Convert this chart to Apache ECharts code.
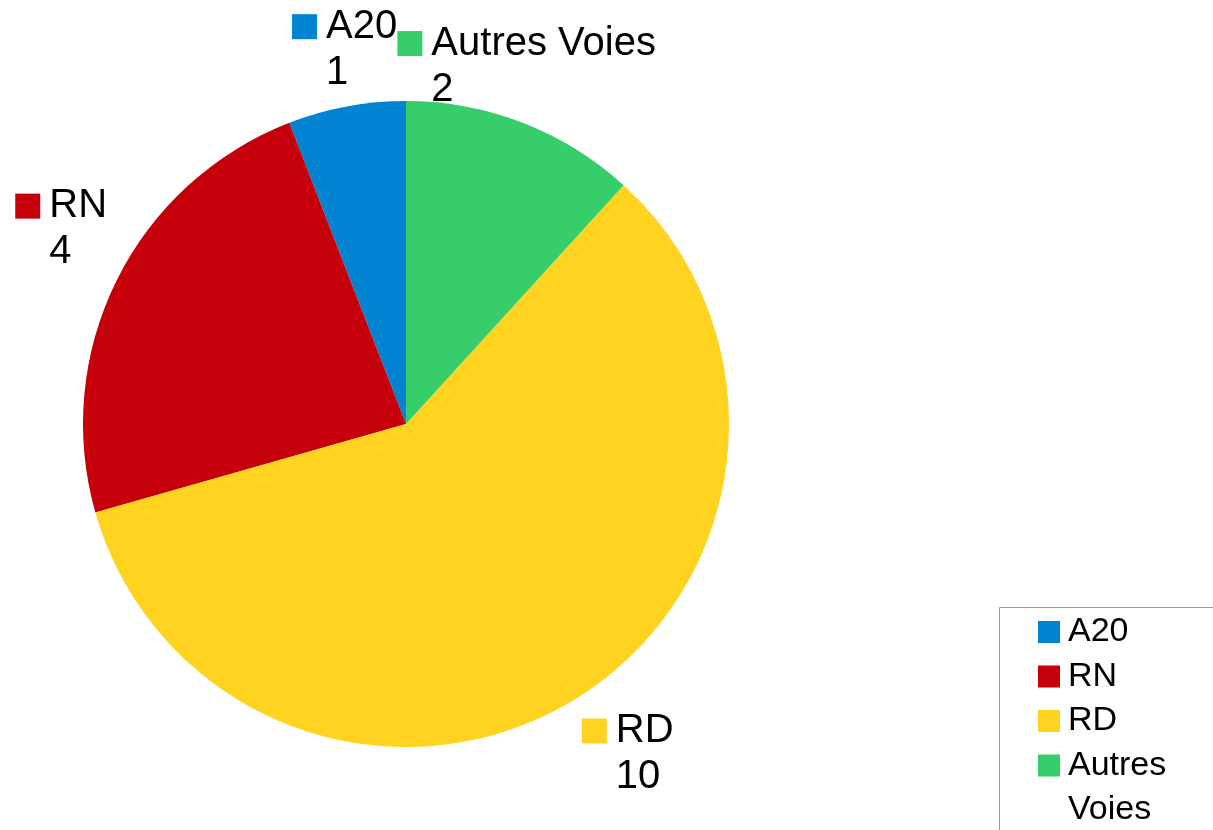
<!DOCTYPE html>
<html>
<head>
<meta charset="utf-8">
<script src="https://cdn.jsdelivr.net/npm/echarts@6/dist/echarts.min.js"></script>
<style>
html,body{margin:0;padding:0;background:#fff;}
#chart{width:1213px;height:830px;}
</style>
</head>
<body>
<div id="chart"></div>
<script>
const categories = ['A20', 'RN', 'RD', 'Autres Voies'];
const values = [1, 4, 10, 2];
const colors = ['#0084d1', '#c5000b', '#ffd320', '#37cd6b'];

const CX = 406, CY = 424, R = 323;
const FONT = '"Liberation Sans", Arial, sans-serif';

const rich = {
  g: { width: 9, lineHeight: 46, align: 'left' },
  sp: { width: 25, lineHeight: 46, align: 'left' },
  t: { fontSize: 40, fontFamily: FONT, color: '#000', lineHeight: 46, align: 'left' }
};
colors.forEach(function (c, i) {
  rich['sq' + i] = { width: 25, height: 25, backgroundColor: c, lineHeight: 46, align: 'left' };
});

const chart = echarts.init(document.getElementById('chart'), null, { renderer: 'canvas' });

const legendText = {
  fontSize: 34,
  fontFamily: FONT,
  color: '#000',
  lineHeight: 44.5,
  padding: [0, 0, 0, 3]
};

chart.setOption({
  animation: false,
  backgroundColor: '#fff',
  color: colors,
  graphic: [{
    type: 'rect',
    z: 0,
    silent: true,
    shape: { x: 999.5, y: 607.5, width: 400, height: 400 },
    style: { fill: '#fff', stroke: '#9a9a9a', lineWidth: 1 }
  }],
  legend: [{
    orient: 'vertical',
    left: 1038,
    top: 609.75,
    padding: 0,
    itemGap: 0,
    itemWidth: 22,
    itemHeight: 22,
    icon: 'rect',
    selectedMode: false,
    data: categories.slice(0, 3),
    textStyle: legendText
  }, {
    orient: 'vertical',
    left: 1038,
    top: 698.75,
    padding: 0,
    itemGap: 0,
    itemWidth: 22,
    itemHeight: 22,
    icon: 'rect',
    selectedMode: false,
    data: categories.slice(3),
    formatter: function (name) { return '\n' + name.replace(' ', '\n'); },
    textStyle: legendText
  }],
  series: [{
    type: 'pie',
    center: [CX, CY],
    radius: R,
    startAngle: 90,
    clockwise: false,
    avoidLabelOverlap: false,
    emphasis: { disabled: true },
    itemStyle: { borderWidth: 0 },
    label: {
      show: true,
      position: 'outside',
      overflow: 'none',
      formatter: function (p) {
        return '{sq' + p.dataIndex + '|}{g|}{t|' + p.name + '}\n{sp|}{g|}{t|' + p.value + '}';
      },
      rich: rich
    },
    labelLine: { show: true, length: 10, length2: 0, lineStyle: { opacity: 0 } },
    labelLayout: function (params) {
      const pts = params.labelLinePoints;
      if (!pts || !pts[0]) return {};
      const p = pts[0];
      let dx = p[0] - CX, dy = p[1] - CY;
      const len = Math.sqrt(dx * dx + dy * dy) || 1;
      dx /= len; dy /= len;
      const d = 11;
      return {
        x: p[0] + dx * d,
        y: p[1] + dy * d,
        align: Math.abs(dx) < 0.4 ? 'center' : (dx < 0 ? 'right' : 'left'),
        verticalAlign: Math.abs(dy) < 0.4 ? 'middle' : (dy < 0 ? 'bottom' : 'top')
      };
    },
    data: categories.map(function (c, i) { return { name: c, value: values[i] }; })
  }]
});
</script>
</body>
</html>
